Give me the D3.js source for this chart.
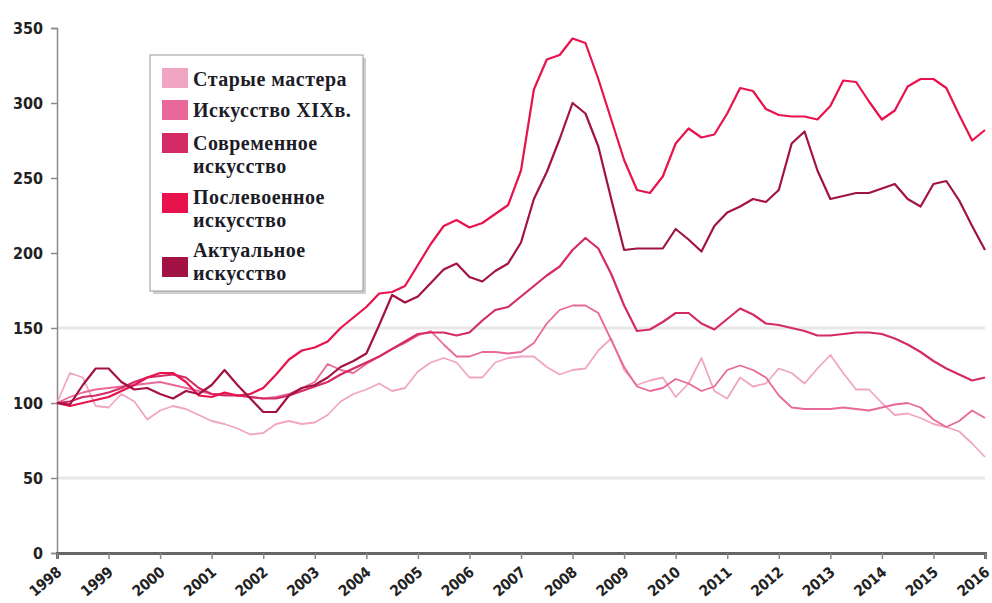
<!DOCTYPE html>
<html lang="ru">
<head>
<meta charset="UTF-8">
<title>Индексы арт-рынка</title>
<script src="https://cdn.jsdelivr.net/npm/d3@7/dist/d3.min.js"></script>
<style>
    body { margin: 0; background: #fff; }
    svg { display: block; }
    .tick text { font-family: "DejaVu Sans Condensed", "DejaVu Sans", sans-serif; font-weight: bold; font-size: 16px; fill: #222; }
    .x-axis .tick text { font-size: 15px; letter-spacing: -0.3px; }
    .legend text { font-family: "Liberation Serif", "Times New Roman", serif; font-weight: bold; font-size: 20px; letter-spacing: 0.5px; fill: #1c1c28; }
</style>
</head>
<body>
<svg id="chart" width="992" height="603"></svg>
<script>
// years on the axis; series are quarterly from 1998 Q1 to 2016 Q1
const years = [1998, 1999, 2000, 2001, 2002, 2003, 2004, 2005, 2006, 2007, 2008, 2009, 2010, 2011, 2012, 2013, 2014, 2015, 2016];
const yTicks = [0, 50, 100, 150, 200, 250, 300, 350];
const gridValues = [50, 150];

const oldMasters = [
    100, 120, 117, 98,  97, 106, 101, 89,  95, 98, 96, 92,  88, 86, 83, 79,
    80, 86, 88, 86,  87, 92, 101, 106,  109, 113, 108, 110,  121, 127, 130, 127,
    117, 117, 127, 130,  131, 131, 124, 119,  122, 123, 135, 143,  122, 112, 115, 117,
    104, 113, 130, 108,  103, 117, 111, 113,  123, 120, 113, 123,  132, 120, 109, 109,
    100, 92, 93, 90,  86, 84, 81, 73,  64
];
const art19 = [
    100, 104, 107, 109,  110, 111, 112, 113,  114, 112, 110, 108,  106, 106, 105, 104,
    103, 104, 106, 110,  114, 126, 122, 120,  126, 131, 136, 140,  145, 148, 139, 131,
    131, 134, 134, 133,  134, 140, 153, 162,  165, 165, 160, 142,  124, 111, 108, 110,
    116, 113, 108, 111,  122, 125, 122, 117,  105, 97, 96, 96,  96, 97, 96, 95,
    97, 99, 100, 97,  89, 84, 88, 95,  90
];
const modern = [
    100, 101, 104, 105,  107, 110, 114, 117,  118, 119, 117, 110,  106, 105, 105, 104,
    103, 103, 105, 108,  111, 114, 119, 123,  127, 131, 136, 141,  146, 147, 147, 145,
    147, 155, 162, 164,  171, 178, 185, 191,  202, 210, 203, 186,  165, 148, 149, 154,
    160, 160, 153, 149,  156, 163, 159, 153,  152, 150, 148, 145,  145, 146, 147, 147,
    146, 143, 139, 134,  128, 123, 119, 115,  117
];
const postWar = [
    100, 98, 100, 102,  104, 108, 112, 117,  120, 120, 114, 105,  104, 107, 105, 106,
    110, 119, 129, 135,  137, 141, 150, 157,  164, 173, 174, 178,  192, 206, 218, 222,
    217, 220, 226, 232,  255, 309, 329, 332,  343, 340, 316, 289,  262, 242, 240, 251,
    273, 283, 277, 279,  293, 310, 308, 296,  292, 291, 291, 289,  298, 315, 314, 301,
    289, 295, 311, 316,  316, 310, 292, 275,  282
];
const contemporary = [
    100, 99, 112, 123,  123, 114, 109, 110,  106, 103, 108, 106,  112, 122, 112, 103,
    94, 94, 105, 110,  112, 117, 124, 128,  133, 152, 172, 167,  171, 180, 189, 193,
    184, 181, 188, 193,  207, 236, 254, 276,  300, 293, 271, 236,  202, 203, 203, 203,
    216, 209, 201, 218,  227, 231, 236, 234,  242, 273, 281, 255,  236, 238, 240, 240,
    243, 246, 236, 231,  246, 248, 235, 218,  202
];

const seriesNames = [["Старые мастера"], ["Искусство XIXв."], ["Современное", "искусство"], ["Послевоенное", "искусство"], ["Актуальное", "искусство"]];
const seriesValues = [oldMasters, art19, modern, postWar, contemporary];
const seriesColors = ["#f0a6c3", "#e8689a", "#d42a66", "#e8124c", "#a31244"];
const seriesWidths = [1.8, 1.8, 2.2, 2.2, 2.2];

const svg = d3.select("#chart");
const margin = { top: 28, right: 7, bottom: 50, left: 57 };
const width = 992, height = 603;

const x = d3.scaleLinear().domain([1998, 2016]).range([margin.left, width - margin.right]);
const y = d3.scaleLinear().domain([0, 350]).range([height - margin.bottom, margin.top]);

// light grid lines
svg.append("g")
    .selectAll("line")
    .data(gridValues)
    .join("line")
    .attr("x1", margin.left)
    .attr("x2", width - margin.right)
    .attr("y1", d => y(d))
    .attr("y2", d => y(d))
    .attr("stroke", "#e8e8e8")
    .attr("stroke-width", 3);

// y axis
const yAxis = svg.append("g")
    .attr("transform", `translate(${margin.left},0)`)
    .call(d3.axisLeft(y).tickValues(yTicks).tickSize(6).tickPadding(8).tickFormat(d3.format("d")));
yAxis.select(".domain").attr("stroke", "#8a8a8a").attr("stroke-width", 1.5);
yAxis.selectAll(".tick line").attr("stroke", "#8a8a8a").attr("stroke-width", 1.5);
yAxis.selectAll(".tick text").attr("dy", "0.36em");

// lines
const line = d3.line()
    .x((d, i) => x(1998 + i / 4))
    .y(d => y(d));

svg.append("g")
    .selectAll("path")
    .data(seriesValues)
    .join("path")
    .attr("fill", "none")
    .attr("stroke", (d, i) => seriesColors[i])
    .attr("stroke-width", (d, i) => seriesWidths[i])
    .attr("stroke-linejoin", "round")
    .attr("d", line);

// x axis
const xAxis = svg.append("g")
    .attr("class", "x-axis")
    .attr("transform", `translate(0,${height - margin.bottom})`)
    .call(d3.axisBottom(x).tickValues(years).tickSize(6).tickFormat(d3.format("d")));
xAxis.select(".domain").attr("stroke", "#666").attr("stroke-width", 3);
xAxis.selectAll(".tick line").attr("stroke", "#888").attr("stroke-width", 1.5);
xAxis.selectAll(".tick text")
    .attr("text-anchor", "end")
    .attr("dy", null)
    .attr("y", null)
    .attr("transform", "translate(5,21) rotate(-40)");

// legend
const legend = svg.append("g").attr("class", "legend");
const lx = 150, ly = 55, lw = 213, lh = 236;
legend.append("rect")
    .attr("x", lx + 3).attr("y", ly + 3).attr("width", lw).attr("height", lh)
    .attr("fill", "#cfcfcf");
legend.append("rect")
    .attr("x", lx).attr("y", ly).attr("width", lw).attr("height", lh)
    .attr("fill", "#fff").attr("stroke", "#9a9a9a").attr("stroke-width", 1);

const swatchTops = [68, 100, 133, 193, 257];
const textTops = [86, 117, 150, 204, 257];
seriesNames.forEach((names, i) => {
    legend.append("rect")
        .attr("x", 162).attr("y", swatchTops[i])
        .attr("width", 26).attr("height", 20)
        .attr("fill", seriesColors[i]);
    const t = legend.append("text").attr("x", 193).attr("y", textTops[i]);
    names.forEach((n, j) => {
        t.append("tspan").attr("x", 193).attr("dy", j === 0 ? 0 : 23).text(n);
    });
});
</script>
</body>
</html>
